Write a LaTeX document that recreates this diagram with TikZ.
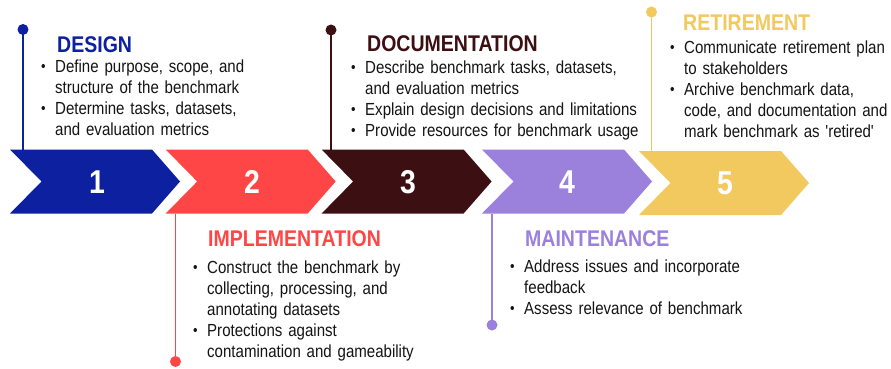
\documentclass[tikz,border=0pt]{standalone}
\usepackage{fontspec}
\newfontfamily\lsfont{Liberation Sans}[FakeStretch=0.86]
\definecolor{cblue}{HTML}{0D20A0}
\definecolor{cred}{HTML}{FF4646}
\definecolor{cmaroon}{HTML}{3C0F13}
\definecolor{cpurple}{HTML}{9B80DC}
\definecolor{cyellow}{HTML}{F2C95E}
\definecolor{ctext}{HTML}{141414}
\newcommand{\bul}{\makebox[14pt][l]{\raisebox{0.8pt}{\fontsize{15}{15}\selectfont\textbullet}}}
\newcommand{\ind}{\hspace*{14pt}}
\begin{document}
\begin{tikzpicture}[x=1pt,y=-1pt,
  title/.style={anchor=base west,inner sep=0pt,font=\lsfont\fontsize{22.7}{24}\selectfont\bfseries},
  body/.style={anchor=base west,inner sep=0pt,text width=320pt,align=left,text=ctext,
    font=\lsfont\fontsize{17.5}{21}\selectfont},
  num/.style={inner sep=0pt,text=white,font=\lsfont\fontsize{33}{33}\selectfont\bfseries},
  dot/.style={circle,inner sep=0pt,minimum size=11pt,fill=#1},
  stem/.style={line width=1.9pt,draw=#1}]
\useasboundingbox (0,0) rectangle (891,368);
\fill[white] (0,0) rectangle (891,368);
% chevrons
\foreach \L/\c/\dy [count=\i] in {10/cblue/0,165.7/cred/0,321.6/cmaroon/0,482/cpurple/0,639/cyellow/1.5}{
  \fill[\c] (\L,149.5+\dy) -- (\L+142,149.5+\dy) -- (\L+170,181.5+\dy) -- (\L+142,213.5+\dy)
     -- (\L,213.5+\dy) -- (\L+31.5,181.5+\dy) -- cycle;
  \coordinate (top\i) at (\L+85,149.5+\dy);
  \coordinate (bot\i) at (\L+85,213.5+\dy);
}
\node[num] (n1) at (97,182) {1};
\node[num] (n2) at (252,182) {2};
\node[num] (n3) at (408,182) {3};
\node[num] (n4) at (567,182) {4};
\node[num] (n5) at (725,183) {5};
% dots and stems
\node[dot=cblue] (d1) at (23,29.5) {};
\node[dot=cred] (d2) at (175.5,361.5) {};
\node[dot=cmaroon] (d3) at (331,30) {};
\node[dot=cpurple] (d4) at (492,325) {};
\node[dot=cyellow] (d5) at (651.5,12) {};
\draw[stem=cblue] (d1.center) -- (d1.center |- top1);
\draw[stem=cred] (d2.center) -- (d2.center |- bot2);
\draw[stem=cmaroon] (d3.center) -- (d3.center |- top3);
\draw[stem=cpurple] (d4.center) -- (d4.center |- bot4);
\draw[stem=cyellow] (d5.center) -- (d5.center |- top5);
% titles
\node[title,text=cblue] (t1) at (57,52) {DESIGN};
\node[title,text=cred] (t2) at (208,246) {IMPLEMENTATION};
\node[title,text=cmaroon] (t3) at (367,51.5) {DOCUMENTATION};
\node[title,text=cpurple] (t4) at (525,246) {MAINTENANCE};
\node[title,text=cyellow] (t5) at (683,30.5) {RETIREMENT};
% bodies
\node[body] (b1) at (41,72.5) {\bul Define purpose, scope, and\\\ind structure of the benchmark\\\bul Determine tasks, datasets,\\\ind and evaluation metrics};
\node[body] (b2) at (193,273.3) {\bul Construct the benchmark by\\\ind collecting, processing, and\\\ind annotating datasets\\\bul Protections against\\\ind contamination and gameability};
\node[body] (b3) at (351,73) {\bul Describe benchmark tasks, datasets,\\\ind and evaluation metrics\\\bul Explain design decisions and limitations\\\bul Provide resources for benchmark usage};
\node[body] (b4) at (510,272.3) {\bul Address issues and incorporate\\\ind feedback\\\bul Assess relevance of benchmark};
\node[body] (b5) at (670,53.3) {\bul Communicate retirement plan\\\ind to stakeholders\\\bul Archive benchmark data,\\\ind code, and documentation and\\\ind mark benchmark as 'retired'};
\end{tikzpicture}
\end{document}
